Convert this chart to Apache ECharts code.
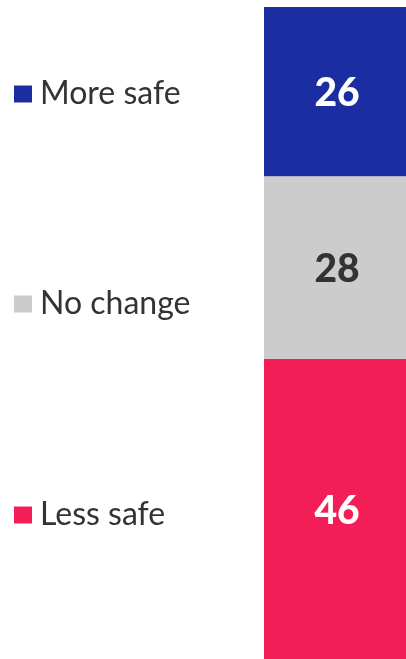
<!DOCTYPE html>
<html><head><meta charset="utf-8">
<script src="https://cdn.jsdelivr.net/npm/echarts@6/dist/echarts.min.js"></script>
<style>html,body{margin:0;padding:0;background:#fff}#c{width:406px;height:659px}</style>
</head><body><div id="c"></div>
<script>
const categories = ['All'];
const seriesNames = ['More safe', 'No change', 'Less safe'];
const moreSafe = [26];
const noChange = [28];
const lessSafe = [46];
const colors = ['#1A2EA2', '#CCCCCC', '#F41E56'];
const labelColors = ['#FFFFFF', '#333333', '#FFFFFF'];
const legendTops = [78, 288, 499];
const values = [moreSafe, noChange, lessSafe];

const chart = echarts.init(document.getElementById('c'));
chart.setOption({
  animation: false,
  grid: {left: 264, right: 0, top: 7, bottom: 0},
  legend: seriesNames.map((n, i) => ({
    data: [n], left: 14, top: legendTops[i], orient: 'vertical', padding: 0,
    itemWidth: 18, itemHeight: 17, selectedMode: false, icon: 'rect',
    textStyle: {fontFamily: 'Lato', fontSize: 32, color: '#333333', padding: [0, 0, 0, 3]}
  })),
  xAxis: {type: 'category', data: categories, show: false},
  yAxis: {type: 'value', min: 0, max: 100, inverse: true, show: false},
  series: seriesNames.map((n, i) => ({
    name: n, type: 'bar', stack: 'all', data: values[i], barWidth: '100%',
    itemStyle: {color: colors[i]},
    label: {show: true, position: 'inside', offset: [2, 2], color: labelColors[i],
      fontFamily: 'Lato', fontWeight: 900, fontSize: 39}
  }))
});
</script></body></html>
